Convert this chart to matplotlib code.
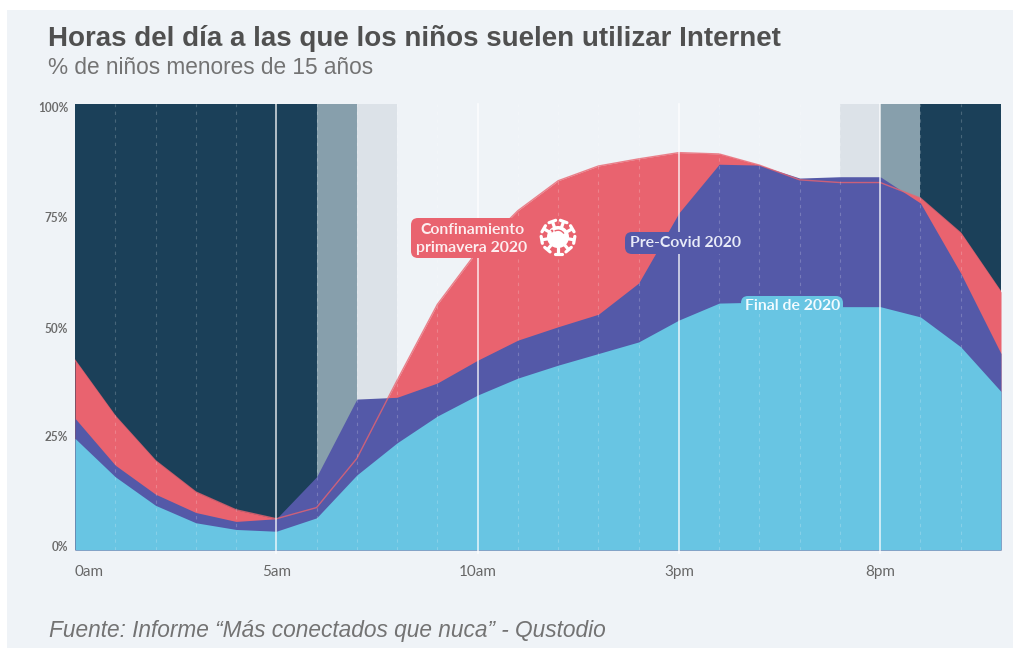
import matplotlib
matplotlib.use("Agg")
import matplotlib.pyplot as plt
from matplotlib.patches import Rectangle, FancyBboxPatch, Circle, Wedge
from matplotlib.transforms import ScaledTranslation
import numpy as np

plt.rcParams["text.hinting"] = "no_autohint"

# Data (% of children per hour)
hours = list(range(24))
confinamiento = [42.5, 30, 20, 13, 9, 7, 9.5, 20.5, 38, 55, 67, 76, 82.7, 86, 87.6, 89,
                 88.7, 86.2, 82.9, 82.3, 82.3, 78.8, 71, 57.8]
pre_covid = [29.5, 19, 12.5, 8.4, 6.4, 7, 16.4, 33.8, 34.2, 37.4, 42.5, 47, 50, 52.8, 59.8, 75.5,
             86.4, 86.2, 83.3, 83.6, 83.6, 77.7, 62, 44]
final_2020 = [25, 16.4, 10, 6.1, 4.6, 4.2, 7.2, 16.8, 24, 30, 34.7, 38.5, 41.4, 44, 46.6, 51.5,
              55.3, 55.5, 55.3, 54.5, 54.5, 52.2, 45.5, 35.5]
band_edges = [0, 6, 7, 8, 19, 20, 21, 23]
band_colors = ["#1b4059", "#879fac", "#dce2e8", None, "#dce2e8", "#879fac", "#1b4059"]
major_hours = [0, 5, 10, 15, 20]
major_labels = ["0am", "5am", "10am", "3pm", "8pm"]
y_ticks = [0, 25, 50, 75, 100]
y_labels = ["0%", "25%", "50%", "75%", "100%"]
# the printed y labels sit slightly inside their real positions (pixels)
y_label_shift = [4, 2, -1, -2, -3]

W, H = 1013, 649
BG = "#eff3f7"
RED = "#e9636f"
BLUE = "#5459a8"
CYAN = "#68c5e3"

fig = plt.figure(figsize=(W / 100, H / 100), dpi=100, facecolor="white")

# panel behind everything
fig.patches.append(Rectangle((7 / W, 1 / H), (W - 7) / W, (H - 11) / H, transform=fig.transFigure,
                             facecolor=BG, edgecolor="none", zorder=-5))

ax = fig.add_axes([75 / W, 1 - 550 / H, 926 / W, 446.5 / H])
ax.set_facecolor("none")
ax.set_xlim(0, 23)
ax.set_ylim(0, 100)
for s in ax.spines.values():
    s.set_visible(False)

# day/night bands
for i, c in enumerate(band_colors):
    if c:
        ax.axvspan(band_edges[i], band_edges[i + 1], facecolor=c, edgecolor="none", zorder=1)

# stacked look: red, blue, red outline, cyan
ax.fill_between(hours, confinamiento, color=RED, lw=0, zorder=2)
ax.fill_between(hours, pre_covid, color=BLUE, lw=0, zorder=3)
ax.plot(hours, confinamiento, color=RED, lw=1, alpha=0.8, zorder=4)
ax.fill_between(hours, final_2020, color=CYAN, lw=0, zorder=5)

# hour lines
for h in hours[1:]:
    if h in major_hours:
        ax.plot([h, h], [-0.7, 100], color="white", lw=1.1, alpha=0.85, zorder=7, clip_on=False)
    else:
        ax.plot([h, h], [0, 100], color="white", lw=0.8, alpha=0.2, ls=(0, (3, 4)), zorder=6)

# x labels share one baseline, so they are plain texts on the x axis transform
ax.set_xticks(major_hours)
ax.tick_params(axis="x", labelbottom=False)
for h, lab in zip(major_hours, major_labels):
    ax.text(h, -26 / 446.5, lab, transform=ax.get_xaxis_transform(), fontfamily="Lato", fontsize=11,
            color="#666666", va="baseline", ha="left" if h == 0 else "center")
ax.set_yticks(y_ticks)
ax.set_yticklabels(y_labels, fontfamily="Lato", fontsize=8.5, color="#6a6a6a", fontweight="bold")
ax.tick_params(axis="both", length=0)
ax.tick_params(axis="y", pad=5)
for lab, shift in zip(ax.get_yticklabels(), y_label_shift):
    lab.set_transform(lab.get_transform() + ScaledTranslation(0, shift / 100, fig.dpi_scale_trans))

# overlay axes in pixels for the labels, icon and titles
over = fig.add_axes([0, 0, 1, 1], facecolor="none")
over.set_xlim(0, W)
over.set_ylim(H, 0)
over.axis("off")


def over_box(x0, y0, x1, y1, color):
    over.add_patch(FancyBboxPatch((x0 + 6, y0 + 6), x1 - x0 - 12, y1 - y0 - 12,
                                  boxstyle="round,pad=6,rounding_size=7", facecolor=color,
                                  edgecolor="none"))


label_font = dict(fontfamily="Lato", fontweight="bold", fontsize=11.3, ha="center", va="center")
over_box(411, 218, 530, 258, RED)
over.text(472, 230, "Confinamiento", color="#fdeef0", **label_font)
over.text(472, 248, "primavera 2020", color="#fdeef0", **label_font)
over_box(625, 232, 746, 254, BLUE)
over.text(686, 243, "Pre-Covid 2020", color="#e8ebf8", **label_font)
over_box(741, 296, 843, 314, CYAN)
over.text(793, 306, "Final de 2020", color="#f2fbff", **label_font)

# virus icon
cx, cy = 558, 237
for a in np.deg2rad(np.arange(0, 360, 40) + 10):
    dx, dy = np.cos(a), np.sin(a)
    tx, ty = -dy, dx
    over.plot([cx + 8 * dx, cx + 16 * dx], [cy + 8 * dy, cy + 16 * dy], color="white", lw=2.3,
              solid_capstyle="butt")
    over.plot([cx + 16.5 * dx - 3.5 * tx, cx + 16.5 * dx + 3.5 * tx],
              [cy + 16.5 * dy - 3.5 * ty, cy + 16.5 * dy + 3.5 * ty], color="white", lw=2.3,
              solid_capstyle="round")
over.add_patch(Circle((cx, cy), 11, facecolor="white", edgecolor="none"))
over.add_patch(Wedge((cx, cy), 7.5, 240, 330, width=1.4, facecolor=RED, edgecolor="none"))
over.add_patch(Circle((cx - 6, cy - 6), 1.4, facecolor=RED, edgecolor="none"))

# titles
over.text(48, 38, "Horas del día a las que los niños suelen utilizar Internet", color="#505050",
          fontfamily="Liberation Sans", fontweight="bold", fontsize=20, va="center")
over.text(48, 68, "% de niños menores de 15 años", color="#737373", fontfamily="Liberation Sans",
          fontsize=16.3, va="center")
over.text(49, 631, "Fuente: Informe “Más conectados que nuca” - Qustodio", color="#737373",
          fontfamily="Liberation Sans", fontstyle="italic", fontsize=16.3, va="center")

fig.savefig("out.png", dpi=100)
